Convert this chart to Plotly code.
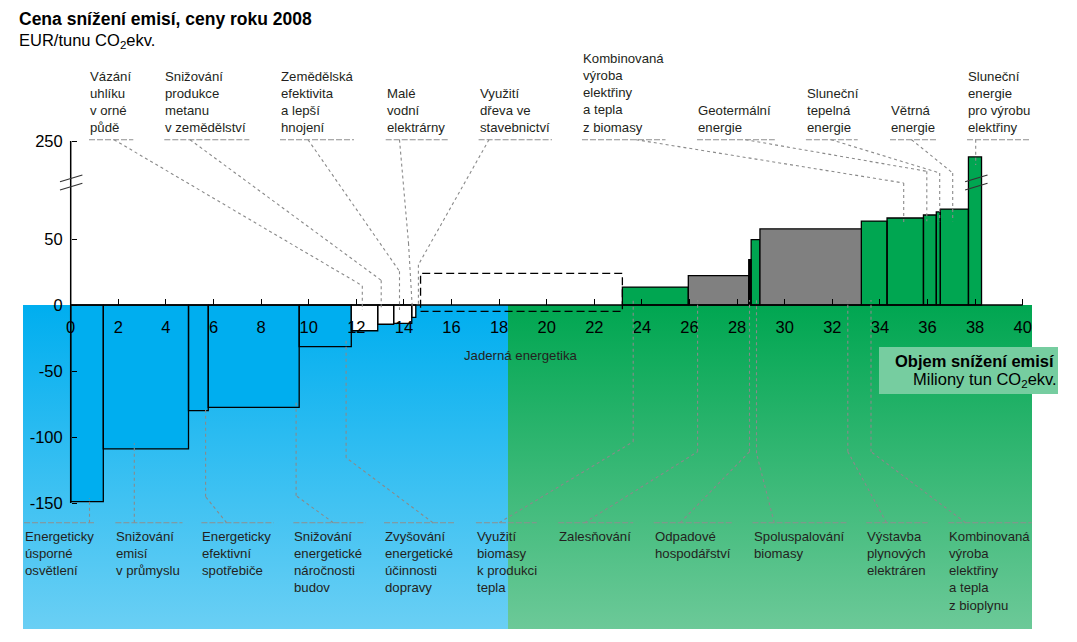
import plotly.graph_objects as go
import numpy as np

# ---------------- DATA ----------------
measure_names = [
    "Energeticky úsporné osvětlení", "Snižování emisí v průmyslu",
    "Energeticky efektivní spotřebiče", "Snižování energetické náročnosti budov",
    "Zvyšování energetické účinnosti dopravy", "Vázání uhlíku v orné půdě",
    "Snižování produkce metanu v zemědělství", "Zemědělská efektivita a lepší hnojení",
    "Malé vodní elektrárny", "Využití dřeva ve stavebnictví", "Jaderná energetika",
    "Využití biomasy k produkci tepla", "Zalesňování", "Odpadové hospodářství",
    "Spoluspalování biomasy", "Výstavba plynových elektráren",
    "Kombinovaná výroba elektřiny a tepla z bioplynu",
    "Kombinovaná výroba elektřiny a tepla z biomasy", "Geotermální energie",
    "Sluneční tepelná energie", "Větrná energie",
    "Sluneční energie pro výrobu elektřiny",
]
# abatement volume (Mt CO2eq) of each measure
volumes = [1.37, 3.58, 0.83, 3.82, 2.19, 1.11, 0.67, 0.76, 0.17, 0.20, 8.48,
           2.77, 2.54, 0.10, 0.37, 4.26, 1.08, 1.53, 0.54, 0.17, 1.18, 0.55]
# abatement cost (EUR / t CO2eq); None = not drawn as a bar
costs = [-149, -109, -80, -77.5, -31.5, -19.5, -14.6, -13.9, -9.3, None, None,
         13.6, 22.2, 34.3, 49.5, 57.6, 63.6, 65.9, 68.2, 70.5, 72.7, 238]
groups = ["blue"] * 5 + ["white"] * 5 + ["nuclear"] + [
    "green", "gray", "black", "green", "gray", "green", "green", "green",
    "green", "green", "green"]
nuclear_cost_range = [-4.8, 24]

x_ticks = list(range(0, 41, 2))
y_tick_values = [-150, -100, -50, 0, 50, 250]

top_labels = ["Vázání<br>uhlíku<br>v orné<br>půdě",
              "Snižování<br>produkce<br>metanu<br>v zemědělství",
              "Zemědělská<br>efektivita<br>a lepší<br>hnojení",
              "Malé<br>vodní<br>elektrárny",
              "Využití<br>dřeva ve<br>stavebnictví",
              "Kombinovaná<br>výroba<br>elektřiny<br>a tepla<br>z biomasy",
              "Geotermální<br>energie",
              "Sluneční<br>tepelná<br>energie",
              "Větrná<br>energie",
              "Sluneční<br>energie<br>pro výrobu<br>elektřiny"]
bottom_labels = ["Energeticky<br>úsporné<br>osvětlení",
                 "Snižování<br>emisí<br>v průmyslu",
                 "Energeticky<br>efektivní<br>spotřebiče",
                 "Snižování<br>energetické<br>náročnosti<br>budov",
                 "Zvyšování<br>energetické<br>účinnosti<br>dopravy",
                 "Využití<br>biomasy<br>k produkci<br>tepla",
                 "Zalesňování",
                 "Odpadové<br>hospodářství",
                 "Spoluspalování<br>biomasy",
                 "Výstavba<br>plynových<br>elektráren",
                 "Kombinovaná<br>výroba<br>elektřiny<br>a tepla<br>z bioplynu"]

# ---------------- LAYOUT GEOMETRY ----------------
W, H = 1077, 642
X0_PX, PX_PER_U = 70.7, 23.8
Y0_PX, PX_PER_V = 305.0, 1.32
AXIS_BREAK, BREAK_SHIFT = 100, 125.8
FONT = "Liberation Sans, Arial, Helvetica, sans-serif"
TXT = "#231F20"
LEAD = "#8A8A8A"

def U(px):
    return (px - X0_PX) / PX_PER_U

def V(py):
    return (Y0_PX - py) / PX_PER_V

def disp(v):
    return v if v < AXIS_BREAK else v - BREAK_SHIFT

def PX(x):
    return x / W

def PY(y):
    return 1 - y / H

fill_colors = {"blue": "#00AEEF", "white": "#FFFFFF", "green": "#00A651",
               "gray": "#808080", "black": "#000000"}

vol = np.array(volumes)
ends = np.cumsum(vol)
starts = ends - vol

fig = go.Figure()

# background gradient panels
bg_bottom = V(629)
blue_l, blue_r, green_r = U(23), U(508), U(1032)
fig.add_trace(go.Scatter(
    x=[blue_l, blue_r, blue_r, blue_l, blue_l], y=[0, 0, bg_bottom, bg_bottom, 0],
    mode="lines", fill="toself", line=dict(width=0), hoverinfo="skip",
    fillgradient=dict(type="vertical", colorscale=[[0, "#6ACFF4"], [1, "#00AEEF"]])))
fig.add_trace(go.Scatter(
    x=[blue_r, green_r, green_r, blue_r, blue_r], y=[0, 0, bg_bottom, bg_bottom, 0],
    mode="lines", fill="toself", line=dict(width=0), hoverinfo="skip",
    fillgradient=dict(type="vertical", colorscale=[[0, "#6CC998"], [1, "#00A651"]])))

# bars (rectangles on the data axes, one filled trace per colour)
for g, col in fill_colors.items():
    xs, ys = [], []
    for s, w, c, gg in zip(starts, vol, costs, groups):
        if gg != g or c is None:
            continue
        y = disp(c)
        xs += [s, s + w, s + w, s, s, None]
        ys += [0, 0, y, y, 0, None]
    if xs:
        fig.add_trace(go.Scatter(x=xs, y=ys, mode="lines", fill="toself", fillcolor=col,
                                 line=dict(color="black", width=1.3), hoverinfo="skip"))

# nuclear dashed box
ni = groups.index("nuclear")
n0, n1 = starts[ni], ends[ni]
lo, hi = nuclear_cost_range
fig.add_trace(go.Scatter(x=[n0, n1, n1, n0, n0], y=[lo, lo, hi, hi, lo], mode="lines",
                         line=dict(color="black", width=1.3, dash="8px,4px"), hoverinfo="skip"))

shapes = []
# axis lines
shapes.append(dict(type="line", xref="x", yref="y", x0=0, x1=40, y0=0, y1=0,
                   line=dict(color="black", width=1.5)))
shapes.append(dict(type="line", xref="x", yref="y", x0=0, x1=0, y0=-150, y1=disp(250),
                   line=dict(color="black", width=1.5)))
# axis break marks (y axis and the broken bar)
for cx in (71.2, 976.3):
    for yy in (181.7, 190.0):
        shapes.append(dict(type="line", xref="paper", yref="paper",
                           x0=PX(cx - 11.2), y0=PY(yy), x1=PX(cx + 11.2), y1=PY(yy - 6.7),
                           line=dict(color="#333333", width=1.2)))

# leader lines (pixel geometry)
top_leaders = [
    [(114, 139.7), (362.3, 285.7), (362.3, 310)],
    [(190, 139.7), (381.2, 280.3), (381.2, 310)],
    [(308, 139.7), (399.5, 271.3), (399.5, 310)],
    [(399.5, 139.7), (408.5, 243), (412.3, 308)],
    [(489, 139.7), (418.4, 264.7), (418.4, 305)],
    [(636, 139.7), (903.7, 183), (903.7, 223)],
    [(745.5, 139.7), (926.8, 171.3), (926.8, 221.3)],
    [(831, 139.7), (939.7, 173), (939.7, 221.3)],
    [(911.6, 139.7), (952.7, 173), (952.7, 221.3)],
    [(975.7, 139.7), (975.7, 165)],
]
bottom_leaders = [
    [(89.5, 522.7), (89.5, 498.3)],
    [(134.3, 522.7), (134.3, 443.3)],
    [(226.6, 522.7), (205.6, 496.7), (205.6, 408.3)],
    [(333.3, 522.7), (296.1, 495.7), (296.1, 400)],
    [(432.9, 522.7), (346.1, 457.7), (346.1, 340)],
    [(499.3, 522.7), (633.2, 441.7), (633.2, 300)],
    [(584.7, 522.7), (697.6, 451.7), (697.6, 300)],
    [(680.3, 522.7), (749.5, 451.7), (749.5, 300)],
    [(774.2, 522.7), (756.5, 453.3), (756.5, 300)],
    [(886.5, 522.7), (847.8, 451.7), (847.8, 300)],
    [(965.6, 522.7), (871, 451.7), (871, 300)],
]
for pl in top_leaders + bottom_leaders:
    for (xa, ya), (xb, yb) in zip(pl[:-1], pl[1:]):
        shapes.append(dict(type="line", xref="paper", yref="paper",
                           x0=PX(xa), y0=PY(ya), x1=PX(xb), y1=PY(yb),
                           line=dict(color=LEAD, width=1.1, dash="dot")))

top_ul = [(89, 133.3), (164.3, 249.3), (280, 354), (385.7, 447.7), (478.6, 552),
          (582, 665.5), (697, 774.8), (805.9, 857.7), (890, 936.7), (967, 1031)]
bot_ul = [(24, 94.7), (115.4, 182.5), (201.4, 273.8), (293.4, 365.7), (384, 455.2),
          (475.9, 536.8), (558.2, 633.2), (653.8, 732.6), (752.5, 847.8),
          (866.2, 927.7), (948.3, 1031.8)]
for ul, yy in ((top_ul, 139.7), (bot_ul, 522.7)):
    for a, b in ul:
        shapes.append(dict(type="line", xref="paper", yref="paper",
                           x0=PX(a), y0=PY(yy), x1=PX(b), y1=PY(yy),
                           line=dict(color="#8E8E8E", width=1.1, dash="6px,2px")))

# legend-like box for x-axis title
shapes.append(dict(type="rect", xref="paper", yref="paper", x0=PX(879), x1=PX(1058),
                   y0=PY(394), y1=PY(347), fillcolor="#76CDA0", line=dict(width=0), layer="above"))

annotations = []
LBL = 13.2
for txt, (a, b) in zip(top_labels, top_ul):
    annotations.append(dict(xref="paper", yref="paper", x=PX(a - 1), y=PY(137.5), text=txt,
                            xanchor="left", yanchor="bottom", align="left", showarrow=False,
                            font=dict(family=FONT, size=LBL, color=TXT)))
for txt, (a, b) in zip(bottom_labels, bot_ul):
    annotations.append(dict(xref="paper", yref="paper", x=PX(a - 1), y=PY(527), text=txt,
                            xanchor="left", yanchor="top", align="left", showarrow=False,
                            font=dict(family=FONT, size=LBL, color=TXT)))
annotations.append(dict(xref="paper", yref="paper", x=PX(462), y=PY(355), text="Jaderná energetika",
                        xanchor="left", yanchor="middle", showarrow=False,
                        font=dict(family=FONT, size=LBL, color=TXT)))
annotations.append(dict(xref="paper", yref="paper", x=PX(17), y=PY(19), text="<b>Cena snížení emisí, ceny roku 2008</b>",
                        xanchor="left", yanchor="middle", showarrow=False,
                        font=dict(family=FONT, size=17.5, color="black")))
annotations.append(dict(xref="paper", yref="paper", x=PX(17), y=PY(41), text="EUR/tunu CO<sub>2</sub>ekv.",
                        xanchor="left", yanchor="middle", showarrow=False,
                        font=dict(family=FONT, size=16.5, color="black")))
annotations.append(dict(xref="paper", yref="paper", x=PX(1057), y=PY(361), text="<b>Objem snížení emisí</b>",
                        xanchor="right", yanchor="middle", showarrow=False,
                        font=dict(family=FONT, size=16.5, color="black")))
annotations.append(dict(xref="paper", yref="paper", x=PX(1059), y=PY(380), text="Miliony tun CO<sub>2</sub>ekv.",
                        xanchor="right", yanchor="middle", showarrow=False,
                        font=dict(family=FONT, size=16.5, color="black")))

fig.update_layout(
    width=W, height=H, margin=dict(l=0, r=0, t=0, b=0),
    paper_bgcolor="white", plot_bgcolor="white", showlegend=False,
    shapes=shapes, annotations=annotations,
    font=dict(family=FONT),
    xaxis=dict(range=[U(0), U(W)], anchor="free", position=1 - Y0_PX / H,
               tickvals=x_ticks, ticktext=[str(t) for t in x_ticks],
               ticks="inside", ticklen=6, tickwidth=1.3, tickcolor="black",
               showgrid=False, zeroline=False, showline=False,
               tickfont=dict(family=FONT, size=16.5, color="black"),
               ticklabelstandoff=10, fixedrange=True),
    yaxis=dict(range=[V(H), V(0)], anchor="free", position=X0_PX / W,
               tickvals=[disp(v) for v in y_tick_values],
               ticktext=[str(v) for v in y_tick_values],
               ticks="inside", ticklen=5, tickwidth=1.3, tickcolor="black",
               showgrid=False, zeroline=False, showline=False,
               tickfont=dict(family=FONT, size=16.5, color="black"),
               ticklabelstandoff=8, fixedrange=True),
)

fig.write_html("out.html", config={"displayModeBar": False},
               post_script="document.body.style.margin='0';")
